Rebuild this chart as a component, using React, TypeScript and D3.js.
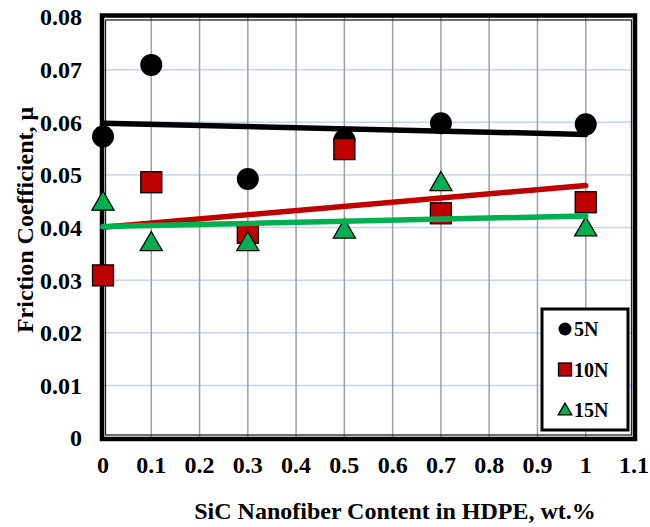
import React from "react";
import * as d3 from "d3";

// friction coefficient vs SiC nanofiber content
const contents = [0, 0.1, 0.3, 0.5, 0.7, 1];
const mu5N = [0.0573, 0.0709, 0.0492, 0.0566, 0.0598, 0.0596];
const mu10N = [0.0309, 0.0486, 0.039, 0.0549, 0.0427, 0.0448];
const mu15N = [0.0447, 0.037, 0.037, 0.0394, 0.0484, 0.0398];

const xTicks = [0, 0.1, 0.2, 0.3, 0.4, 0.5, 0.6, 0.7, 0.8, 0.9, 1, 1.1];
const yTicks = [0, 0.01, 0.02, 0.03, 0.04, 0.05, 0.06, 0.07, 0.08];

const series = [
  { name: "5N", values: mu5N, color: "#000000", shape: "circle" },
  { name: "10N", values: mu10N, color: "#c00000", shape: "square" },
  { name: "15N", values: mu15N, color: "#00b050", shape: "triangle" },
];

const width = 650;
const height = 527;
const plot = { left: 103, right: 634, top: 17, bottom: 438 };
const font = "Liberation Serif";

const x = d3.scaleLinear().domain([0, 1.1]).range([plot.left, plot.right]);
const y = d3.scaleLinear().domain([0, 0.08]).range([plot.bottom, plot.top]);

// least squares fit like excel's linear trendline
function fit(xs: number[], ys: number[]) {
  const mx = d3.mean(xs)!;
  const my = d3.mean(ys)!;
  const sxy = d3.sum(xs, (v, i) => (v - mx) * (ys[i] - my));
  const sxx = d3.sum(xs, (v) => (v - mx) * (v - mx));
  const slope = sxy / sxx;
  const b = my - slope * mx;
  return (v: number) => b + slope * v;
}

const line = d3.line<[number, number]>().x((d) => x(d[0])).y((d) => y(d[1]));

function Marker({ shape, cx, cy, color, size }: any) {
  if (shape === "circle") {
    return <circle cx={cx} cy={cy} r={size / 2} fill={color} />;
  }
  if (shape === "square") {
    return (
      <rect x={cx - size / 2} y={cy - size / 2} width={size} height={size}
        fill={color} stroke="#000" strokeWidth={1.3} />
    );
  }
  const sym = d3.symbol(d3.symbolTriangle, size * size * 0.48)();
  return (
    <path d={sym!} transform={`translate(${cx},${cy + 1})`} fill={color}
      stroke="#000" strokeWidth={1.3} />
  );
}

export default function App() {
  return (
    <svg width={width} height={height}
      style={{ position: "absolute", left: 0, top: 0, background: "#fff" }}>
      {/* grid */}
      {yTicks.slice(1, -1).map((t) => (
        <line key={"gy" + t} x1={plot.left} x2={plot.right} y1={y(t)} y2={y(t)}
          stroke="#c6d4ee" strokeWidth={1.5} />
      ))}
      {xTicks.slice(1, -1).map((t) => (
        <line key={"gx" + t} x1={x(t)} x2={x(t)} y1={plot.top} y2={plot.bottom}
          stroke="#a0a0a0" strokeWidth={1.5} />
      ))}

      {/* frame: thick outside, thin inside */}
      <rect x={plot.left + 2.5} y={plot.top + 3} width={plot.right - plot.left - 5}
        height={plot.bottom - plot.top - 6} fill="none" stroke="#222" strokeWidth={1.3} />
      <rect x={plot.left - 1} y={plot.top - 1.5} width={plot.right - plot.left + 2}
        height={plot.bottom - plot.top + 2.5} fill="none" stroke="#000" strokeWidth={4.5} />

      {/* markers */}
      {series.map((s) =>
        s.values.map((v, i) => (
          <Marker key={s.name + i} shape={s.shape} cx={x(contents[i])} cy={y(v)}
            color={s.color} size={s.shape === "circle" ? 22 : 21} />
        ))
      )}

      {/* trendlines */}
      {series.map((s) => {
        const f = fit(contents, s.values);
        return (
          <path key={"t" + s.name} d={line([[0, f(0)], [1, f(1)]])!} fill="none"
            stroke={s.color} strokeWidth={5.5} strokeLinecap="round" />
        );
      })}

      {/* axes labels */}
      {yTicks.map((t) => (
        <text key={"yl" + t} x={82} y={y(t)} dy="0.35em" textAnchor="end"
          fontFamily={font} fontWeight="bold" fontSize={24}>{t === 0 ? "0" : t.toFixed(2)}</text>
      ))}
      {xTicks.map((t) => (
        <text key={"xl" + t} x={x(t)} y={473} textAnchor="middle"
          fontFamily={font} fontWeight="bold" fontSize={24}>{d3.format("")(t)}</text>
      ))}
      <text x={395} y={519} textAnchor="middle"
        fontFamily={font} fontWeight="bold" fontSize={24}>SiC Nanofiber Content in HDPE, wt.%</text>
      <text transform={`translate(33,${220}) rotate(-90)`} textAnchor="middle"
        fontFamily={font} fontWeight="bold" fontSize={24}>Friction Coefficient, μ</text>

      {/* legend */}
      <rect x={542} y={309} width={86} height={121} fill="#fff" stroke="#000" strokeWidth={3} />
      {series.map((s, i) => {
        const ly = 329 + i * 40.5;
        return (
          <g key={"lg" + s.name}>
            <Marker shape={s.shape} cx={565} cy={ly} color={s.color} size={13} />
            <text x={574} y={ly} dy="0.35em" fontFamily={font} fontWeight="bold"
              fontSize={20}>{s.name}</text>
          </g>
        );
      })}
    </svg>
  );
}
